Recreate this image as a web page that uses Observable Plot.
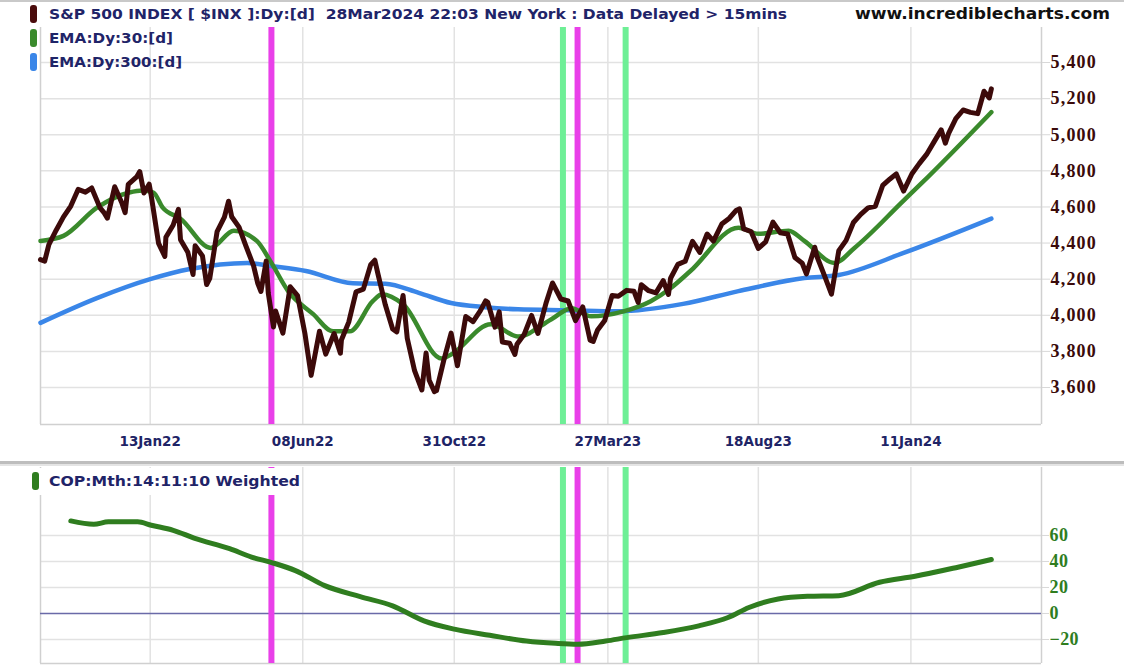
<!DOCTYPE html>
<html>
<head>
<meta charset="utf-8">
<script src="https://cdn.jsdelivr.net/npm/d3@7"></script>
<script src="https://cdn.jsdelivr.net/npm/@observablehq/plot@0.6"></script>
<style>
  body { margin: 0; background: #fff; }
  #wrap { position: relative; width: 1124px; height: 670px; overflow: hidden; background: #fff; }
  #topchart { position: absolute; left: 0; top: 0; }
  #botchart { position: absolute; left: 0; top: 465px; }
  .topline { position: absolute; left: 0; top: 0; width: 1124px; height: 2px; background: #c9c9c9; }
  .sep { position: absolute; left: 0; top: 461px; width: 1124px; height: 3px; background: #bdbdbd; border-bottom: 2px solid #e4e4e4; }
  .leg { position: absolute; white-space: nowrap; color: #1f2468; font: bold 14.5px "DejaVu Sans", sans-serif; line-height: 20px; transform-origin: 0 50%; }
  .sw { position: absolute; width: 7px; height: 18px; border-radius: 3px; }
  .site { position: absolute; white-space: nowrap; color: #111; font: bold 15px "DejaVu Sans", sans-serif; line-height: 20px; transform-origin: 0 50%; }
</style>
</head>
<body>
<div id="wrap">
  <div id="topchart"></div>
  <div id="botchart"></div>
  <div class="topline"></div>
  <div class="sep"></div>
  <div class="sw" style="left:30px;top:5px;background:#4a0b0b"></div>
  <div class="leg" id="h1" style="left:49px;top:4px">S&amp;P 500 INDEX [ $INX ]:Dy:[d]&nbsp; 28Mar2024 22:03 New York : Data Delayed &gt; 15mins</div>
  <div class="sw" style="left:30px;top:29px;background:#3a8a2c"></div>
  <div class="leg" id="h2" style="left:49px;top:28px">EMA:Dy:30:[d]</div>
  <div class="sw" style="left:30px;top:53px;background:#3a86e8"></div>
  <div class="leg" id="h3" style="left:49px;top:52px">EMA:Dy:300:[d]</div>
  <div class="site" id="site" style="left:855px;top:4px">www.incrediblecharts.com</div>
  <div style="position:absolute;left:34px;top:468px;width:268px;height:27px;background:#fff"></div>
  <div class="sw" style="left:32px;top:472px;background:#2f7d1f"></div>
  <div class="leg" id="h4" style="left:49px;top:471px">COP:Mth:14:11:10 Weighted</div>
</div>
<script>
// ---------- data ----------
const priceDates = [
"2021-09-30","2021-10-04","2021-10-08","2021-10-15","2021-10-22","2021-10-29","2021-11-05","2021-11-12","2021-11-18","2021-11-26",
"2021-11-30","2021-12-03","2021-12-10","2021-12-17","2021-12-20","2021-12-23","2021-12-31","2022-01-03","2022-01-07","2022-01-12",
"2022-01-14","2022-01-21","2022-01-27","2022-01-28","2022-02-04","2022-02-09","2022-02-11","2022-02-18","2022-02-23","2022-02-25",
"2022-03-04","2022-03-08","2022-03-11","2022-03-18","2022-03-25","2022-03-29","2022-04-01","2022-04-08","2022-04-14","2022-04-22",
"2022-04-26","2022-04-29","2022-05-04","2022-05-06","2022-05-11","2022-05-13","2022-05-20","2022-05-27","2022-06-03","2022-06-10",
"2022-06-16","2022-06-24","2022-06-30","2022-07-08","2022-07-14","2022-07-15","2022-07-22","2022-07-29","2022-08-05","2022-08-12",
"2022-08-16","2022-08-19","2022-08-26","2022-09-02","2022-09-06","2022-09-12","2022-09-16","2022-09-23","2022-09-30","2022-10-04",
"2022-10-07","2022-10-12","2022-10-14","2022-10-21","2022-10-28","2022-11-03","2022-11-11","2022-11-18","2022-11-25","2022-11-30",
"2022-12-02","2022-12-09","2022-12-13","2022-12-16","2022-12-23","2022-12-28","2022-12-30","2023-01-06","2023-01-13","2023-01-19",
"2023-01-27","2023-02-02","2023-02-10","2023-02-17","2023-02-24","2023-03-03","2023-03-10","2023-03-13","2023-03-17","2023-03-24",
"2023-03-31","2023-04-06","2023-04-14","2023-04-21","2023-04-25","2023-04-28","2023-05-05","2023-05-12","2023-05-19","2023-05-24",
"2023-05-26","2023-06-02","2023-06-09","2023-06-16","2023-06-23","2023-06-30","2023-07-06","2023-07-14","2023-07-21","2023-07-28",
"2023-07-31","2023-08-04","2023-08-11","2023-08-18","2023-08-25","2023-09-01","2023-09-08","2023-09-15","2023-09-22","2023-09-29",
"2023-10-03","2023-10-11","2023-10-13","2023-10-20","2023-10-27","2023-11-03","2023-11-10","2023-11-17","2023-11-24","2023-12-01",
"2023-12-08","2023-12-15","2023-12-22","2023-12-28","2024-01-04","2024-01-12","2024-01-19","2024-01-26","2024-02-02","2024-02-09",
"2024-02-13","2024-02-16","2024-02-23","2024-03-01","2024-03-08","2024-03-15","2024-03-21","2024-03-22","2024-03-26","2024-03-28"];
const priceValues = [
4308,4300,4391,4471,4545,4605,4697,4682,4705,4595,
4567,4538,4712,4620,4568,4725,4766,4796,4677,4726,
4662,4398,4326,4432,4500,4587,4419,4349,4226,4385,
4329,4170,4204,4463,4543,4632,4546,4488,4393,4272,
4175,4132,4300,4123,3935,4024,3901,4158,4109,3901,
3667,3912,3785,3899,3790,3863,3962,4130,4145,4280,
4305,4228,4058,3924,3908,4110,3873,3693,3586,3791,
3640,3577,3583,3752,3901,3720,3993,3965,4026,4080,
4072,3934,4019,3852,3845,3783,3840,3895,3999,3899,
4071,4179,4090,4079,3970,4046,3862,3855,3917,3971,
4109,4105,4138,4133,4071,4169,4136,4124,4192,4115,
4205,4282,4299,4410,4348,4450,4411,4505,4536,4582,
4589,4478,4464,4370,4406,4516,4457,4450,4320,4288,
4229,4377,4327,4224,4117,4358,4415,4514,4559,4595,
4604,4719,4755,4783,4688,4784,4840,4891,4959,5027,
4953,5006,5089,5137,5124,5117,5241,5234,5204,5254];

const ema30Dates = ["2021-09-30","2021-10-22","2021-11-23","2021-12-24","2022-01-06","2022-01-16","2022-01-25","2022-02-11","2022-03-12","2022-04-03",
"2022-04-25","2022-05-08","2022-05-25","2022-06-18","2022-07-07","2022-07-23","2022-08-14","2022-08-23","2022-09-12","2022-10-19",
"2022-10-28","2022-12-05","2022-12-31","2023-02-01","2023-02-20","2023-03-11","2023-04-11","2023-05-07","2023-05-26","2023-06-14",
"2023-07-30","2023-08-18","2023-09-16","2023-10-01","2023-10-30","2023-11-18","2024-01-04","2024-01-21","2024-03-28"];
const ema30Values = [4412,4440,4596,4680,4691,4680,4596,4535,4373,4468,
4412,4300,4134,4006,3911,3911,4078,4117,4061,3760,
3783,3950,3883,3978,4039,3994,4022,4078,4150,4245,
4485,4451,4468,4412,4290,4373,4635,4730,5125];

const ema300Dates = ["2021-09-30","2021-11-23","2022-01-13","2022-02-20","2022-04-16","2022-05-08","2022-06-11","2022-07-26","2022-08-26","2022-09-27",
"2022-10-28","2022-11-29","2022-12-31","2023-02-17","2023-04-06","2023-06-07","2023-07-30","2023-10-01","2023-11-03","2024-01-04","2024-03-28"];
const ema300Values = [3958,4095,4200,4256,4290,4273,4245,4178,4175,4124,
4068,4045,4033,4028,4022,4063,4134,4206,4223,4345,4535];

const copDates = ["2021-10-29","2021-11-20","2021-12-04","2022-01-01","2022-01-14","2022-02-04","2022-02-24","2022-03-30","2022-04-20","2022-05-10",
"2022-06-01","2022-06-29","2022-08-02","2022-09-02","2022-10-02","2022-10-31","2022-12-04","2023-01-08","2023-02-05","2023-02-26",
"2023-03-25","2023-04-14","2023-05-19","2023-06-22","2023-07-20","2023-08-09","2023-09-06","2023-10-04","2023-11-03","2023-12-12",
"2024-01-15","2024-02-25","2024-03-28"];
const copValues = [71.2,68.6,70.5,70.5,67.9,64,58,49.8,43.4,39,
33,21.4,12.9,5.9,-5.7,-12.1,-16.8,-21.2,-23,-23.7,
-21.2,-18.6,-14.7,-9.5,-3.1,4.6,11.1,13.2,13.7,24,
28.6,35.6,41.5];

const magentaDates = ["2022-05-09","2023-02-26"];
const greenDates = ["2023-02-12","2023-04-13"];

const xTickDates = ["2022-01-13","2022-06-08","2022-10-31","2023-03-27","2023-08-18","2024-01-11"];
const priceTicks = [3600,3800,4000,4200,4400,4600,4800,5000,5200,5400];
const copTicks = [-20,0,20,40,60];

// ---------- build ----------
const parse = d3.utcParse("%Y-%m-%d");
const fmt = d3.utcFormat("%d%b%y");
const price = priceDates.map((d, i) => ({date: parse(d), value: priceValues[i]}));
const ema30 = ema30Dates.map((d, i) => ({date: parse(d), value: ema30Values[i]}));
const ema300 = ema300Dates.map((d, i) => ({date: parse(d), value: ema300Values[i]}));
const cop = copDates.map((d, i) => ({date: parse(d), value: copValues[i]}));
const magenta = magentaDates.map(parse);
const green = greenDates.map(parse);
const xTicks = xTickDates.map(parse);
const xDomain = [parse("2021-09-30"), parse("2024-05-15")];
const yDomain = [3395, 5594];
const cDomain = [-38.5, 112.3];

const gridStyle = {stroke: "#e2e2e2", strokeOpacity: 1, strokeWidth: 1.5};
const borderStyle = {stroke: "#d0d0d0", strokeOpacity: 1, strokeWidth: 1.5};

const topPlot = Plot.plot({
  width: 1124, height: 463,
  marginLeft: 40, marginRight: 83, marginTop: 27, marginBottom: 39,
  style: {background: "transparent", overflow: "visible"},
  x: {type: "utc", domain: xDomain},
  y: {domain: yDomain},
  marks: [
    Plot.gridX(xTicks, gridStyle),
    Plot.gridY(priceTicks, gridStyle),
    Plot.ruleX([xDomain[0], xDomain[1]], borderStyle),
    Plot.ruleY([yDomain[0]], borderStyle),
    Plot.ruleX(magenta, {stroke: "#e940e9", strokeWidth: 6}),
    Plot.ruleX(green, {stroke: "#6eef96", strokeWidth: 6}),
    Plot.line(ema300, {x: "date", y: "value", stroke: "#3a86e8", strokeWidth: 4.5, curve: "monotone-x"}),
    Plot.line(ema30, {x: "date", y: "value", stroke: "#3a8a2c", strokeWidth: 4.5, curve: "monotone-x"}),
    Plot.line(price, {x: "date", y: "value", stroke: "#3c0a0a", strokeWidth: 5, strokeLinejoin: "round"}),
    Plot.axisX(xTicks, {tickSize: 0, tickPadding: 12, tickFormat: fmt, label: null}),
    Plot.axisY(priceTicks, {anchor: "right", tickSize: 8, tickPadding: 1, stroke: "#d8d8d8", tickFormat: d3.format(","), label: null})
  ]
});
document.getElementById("topchart").append(topPlot);

const botPlot = Plot.plot({
  width: 1124, height: 205,
  marginLeft: 40, marginRight: 83, marginTop: 2, marginBottom: 7,
  style: {background: "transparent", overflow: "visible"},
  x: {type: "utc", domain: xDomain, axis: null},
  y: {domain: cDomain},
  marks: [
    Plot.gridX(xTicks, gridStyle),
    Plot.gridY(copTicks.filter(v => v !== 0), gridStyle),
    Plot.ruleX([xDomain[0], xDomain[1]], borderStyle),
    Plot.ruleY([cDomain[0]], borderStyle),
    Plot.ruleY([0], {stroke: "#6a6aa8", strokeWidth: 1.5}),
    Plot.ruleX(magenta, {stroke: "#e940e9", strokeWidth: 6}),
    Plot.ruleX(green, {stroke: "#6eef96", strokeWidth: 6}),
    Plot.line(cop, {x: "date", y: "value", stroke: "#2f7d1f", strokeWidth: 5, curve: "monotone-x"}),
    Plot.axisY(copTicks, {anchor: "right", tickSize: 7, tickPadding: 1, stroke: "#d8d8d8", label: null})
  ]
});
document.getElementById("botchart").append(botPlot);

// text styling of the axes
d3.select(topPlot).selectAll('g[aria-label="x-axis tick label"] text')
  .style("font-family", '"DejaVu Sans", sans-serif').style("font-weight", "bold")
  .style("font-size", "13.5px").style("fill", "#1e2466");
d3.select(topPlot).selectAll('g[aria-label="y-axis tick label"] text')
  .style("font-family", '"Liberation Serif", "Times New Roman", serif').style("font-weight", "bold")
  .style("font-size", "18px").style("fill", "#3a0a0a").style("letter-spacing", "1.2px");
d3.select(botPlot).selectAll('g[aria-label="y-axis tick label"] text')
  .style("font-family", '"Liberation Serif", "Times New Roman", serif').style("font-weight", "bold")
  .style("font-size", "18px").style("fill", "#2f7d1f").style("letter-spacing", "0.4px");

// fit header text widths to the reference layout
function fit(id, w) {
  const el = document.getElementById(id);
  const cur = el.getBoundingClientRect().width;
  if (cur > 0) el.style.transform = `scaleX(${w / cur})`;
}
fit("h1", 738);
fit("h2", 124);
fit("h3", 133);
fit("site", 255);
fit("h4", 251);
</script>
</body>
</html>
